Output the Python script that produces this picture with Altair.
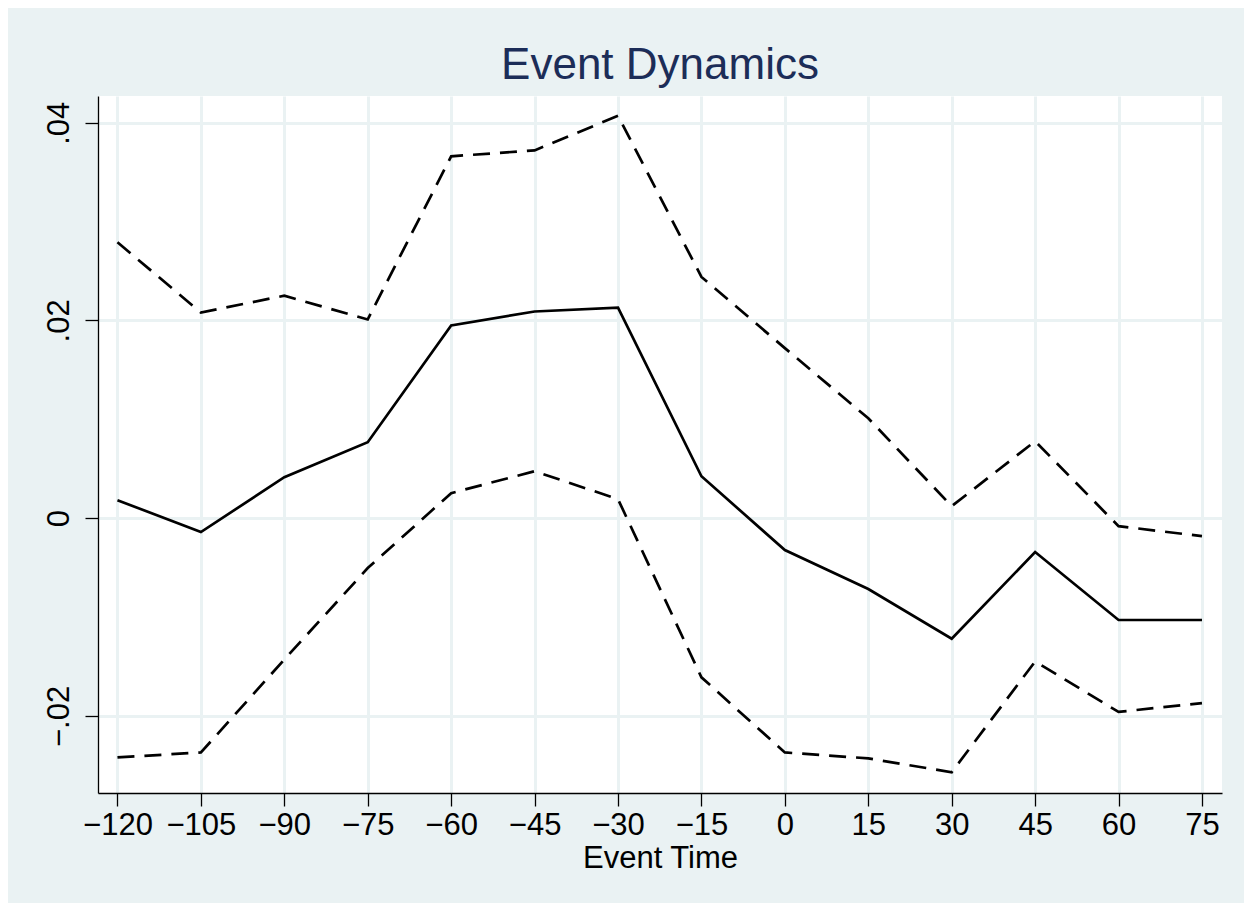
import altair as alt
import pandas as pd

event_time = [-120, -105, -90, -75, -60, -45, -30, -15, 0, 15, 30, 45, 60, 75]
estimate = [0.00182, -0.00141, 0.00414, 0.00768, 0.0195, 0.0209, 0.0213, 0.00424,
            -0.00323, -0.00717, -0.0122, -0.00343, -0.0103, -0.0103]
upper = [0.0279, 0.0208, 0.0225, 0.0201, 0.0366, 0.0372, 0.0407, 0.0244,
         0.0172, 0.0101, 0.00121, 0.00778, -0.00081, -0.00182]
lower = [-0.0242, -0.0237, -0.0143, -0.00505, 0.00253, 0.00475, 0.00192, -0.0161,
         -0.0237, -0.0243, -0.0257, -0.0145, -0.0196, -0.0187]
x_ticks = [-120, -105, -90, -75, -60, -45, -30, -15, 0, 15, 30, 45, 60, 75]
y_ticks = [-0.02, 0, 0.02, 0.04]

df = pd.DataFrame({"t": event_time, "est": estimate, "hi": upper, "lo": lower})

FONT = "Liberation Sans"
BG = "#EAF2F3"

xs = alt.Scale(domain=[-123.5, 78.6], nice=False, zero=False)
ys = alt.Scale(domain=[-0.0278, 0.0427], nice=False, zero=False)

x_axis = alt.Axis(values=x_ticks, title="Event Time", format="d",
                  labelFont=FONT, labelFontSize=31, labelColor="black",
                  titleFont=FONT, titleFontSize=31, titleFontWeight="normal", titleColor="black",
                  tickSize=13, tickColor="black", tickWidth=1.3,
                  domainColor="black", domainWidth=1.3,
                  labelPadding=4, titlePadding=3,
                  grid=True, gridColor=BG, gridWidth=3, labelFlush=False)
y_axis = alt.Axis(values=y_ticks, title=None,
                  labelExpr="datum.value == 0 ? '0' : (datum.value < 0 ? '\u2212' : '') + replace(format(abs(datum.value), '.2f'), '0.', '.')",
                  labelFont=FONT, labelFontSize=31, labelColor="black",
                  labelAngle=-90, labelAlign="center", labelBaseline="bottom",
                  tickSize=13, tickColor="black", tickWidth=1.3,
                  domainColor="black", domainWidth=1.3,
                  labelPadding=10,
                  grid=True, gridColor=BG, gridWidth=3, labelFlush=False)

base = alt.Chart(df)
hi_line = base.mark_line(color="black", strokeWidth=2.7, strokeDash=[17, 10]).encode(
    x=alt.X("t:Q", scale=xs, axis=x_axis), y=alt.Y("hi:Q", scale=ys, axis=y_axis))
est_line = base.mark_line(color="black", strokeWidth=2.7).encode(
    x=alt.X("t:Q", scale=xs), y=alt.Y("est:Q", scale=ys))
lo_line = base.mark_line(color="black", strokeWidth=2.7, strokeDash=[17, 10]).encode(
    x=alt.X("t:Q", scale=xs), y=alt.Y("lo:Q", scale=ys))

chart = alt.layer(hi_line, est_line, lo_line).properties(
    width=1124, height=697,
    title=alt.TitleParams("Event Dynamics", font=FONT, fontSize=44, fontWeight="normal",
                          color="#1c2d58", anchor="middle", offset=8),
    autosize=alt.AutoSizeParams(type="none"),
    padding={"left": 90, "top": 88, "right": 22, "bottom": 110},
    background=BG,
).configure_view(fill="white", stroke=None)

chart.save("out.html", embed_options={"renderer": "svg", "actions": False})
